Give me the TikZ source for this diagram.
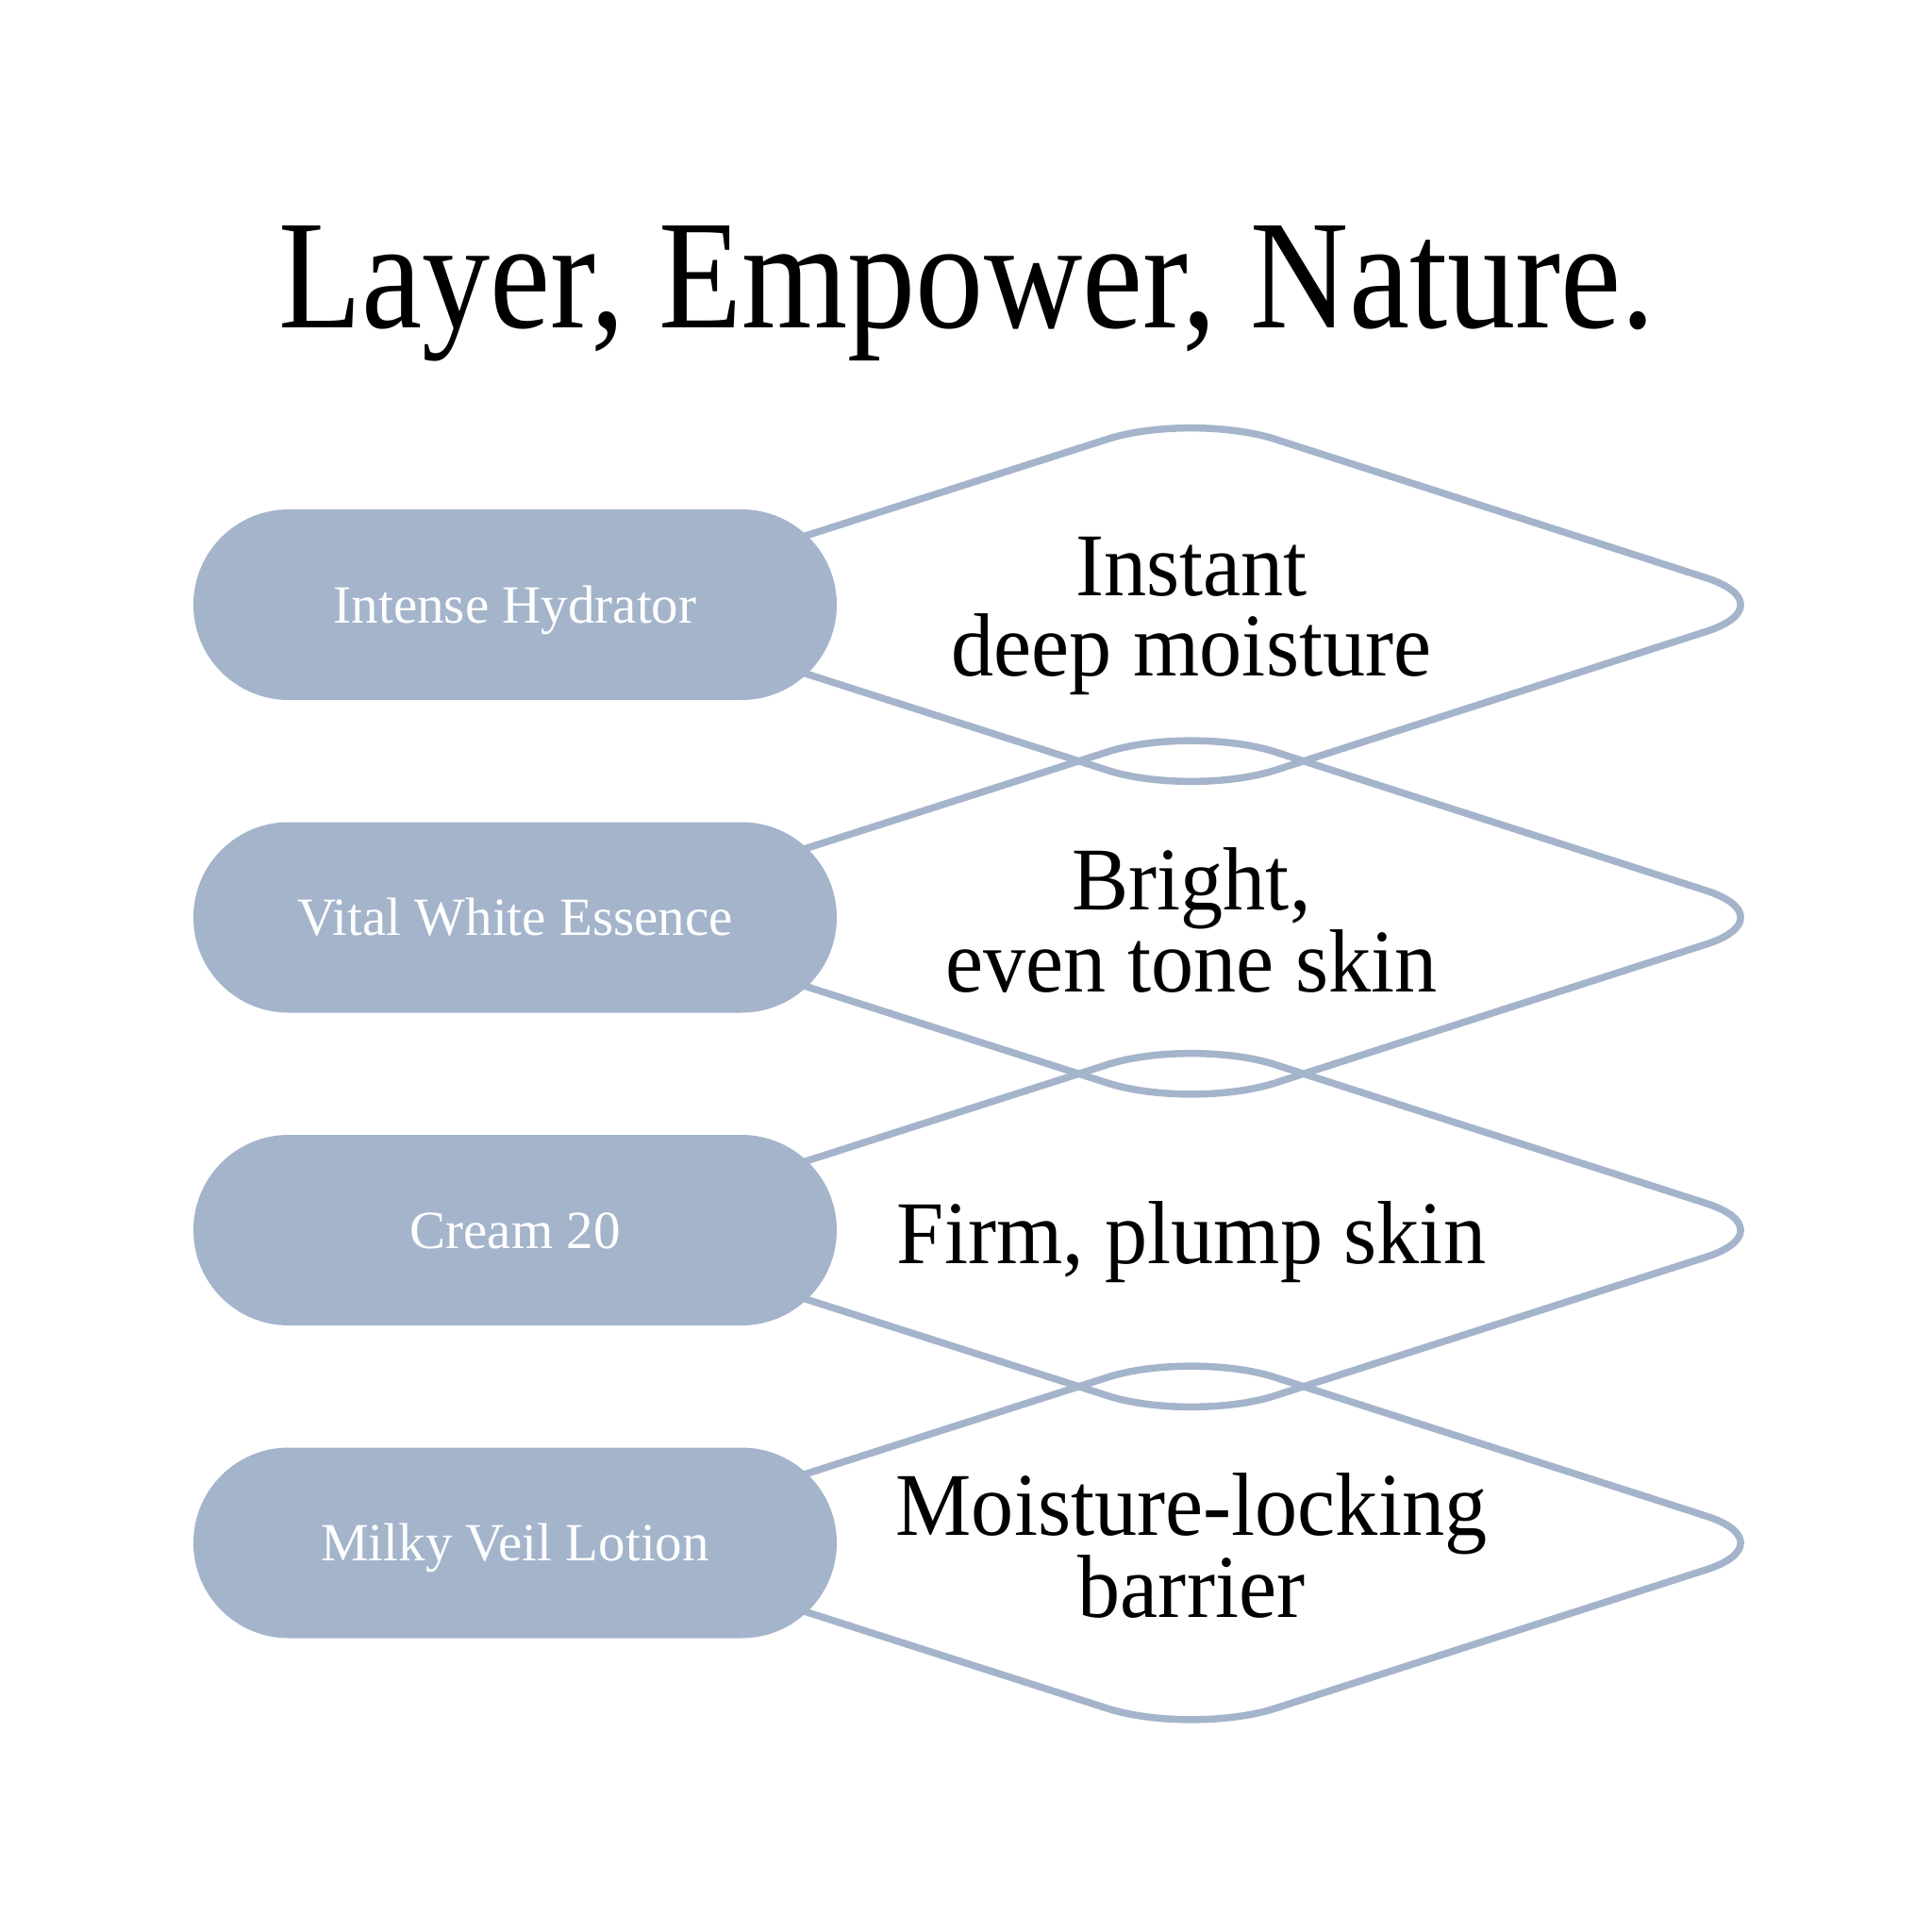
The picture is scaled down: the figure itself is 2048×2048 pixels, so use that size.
\documentclass[tikz,border=0pt]{standalone}
\usepackage{fontspec}
\setmainfont{Liberation Serif}
\newfontfamily\titlefont[FakeStretch=0.875]{Liberation Serif}
\newfontfamily\blurbfont[FakeStretch=0.95]{Liberation Serif}
\usepackage{tikz}
\definecolor{veilblue}{RGB}{164, 180, 203}

\begin{document}
\begin{tikzpicture}[x=1pt, y=-1pt,
			pill/.style={fill=veilblue, rounded corners=101pt, minimum width=682pt, minimum height=202pt, inner sep=0pt,
				text=white, text height=38pt, text depth=0pt, font=\fontsize{57}{60}\selectfont},
			blurb/.style={align=center, inner sep=0pt, font=\blurbfont\fontsize{95}{85}\selectfont,
				execute at begin node=\strut, execute at end node=\strut},
			wave/.style={draw=veilblue, line width=7.5pt, rounded corners=93pt}]
			%Rahmen
			\useasboundingbox[fill=white] (0,0) rectangle (2048,2048);
			%Titel
			\node[anchor=base, inner sep=0pt, font=\titlefont\fontsize{165}{180}\selectfont] (titel) at (1025,347) {Layer, Empower, Nature.};
			%Rauten
			\foreach \i in {0,...,3}
				\draw[wave] (626,{641+331.5*\i}) -- ++(637,-204) -- ++(634,204) -- ++(-634,204) -- cycle;
			%Pillen
			\foreach \i/\name in {0/Intense Hydrator, 1/Vital White Essence, 2/Cream 20, 3/Milky Veil Lotion}
				\node[pill] (pill\i) at (546,{641+331.5*\i}) {\name};
			%Beschriftung
			\foreach \i/\txt in {0/{Instant\\deep moisture}, 1/{Bright,\\even tone skin}, 2/{Firm, plump skin}, 3/{Moisture-locking\\barrier}}
				\node[blurb] (blurb\i) at (1263,{656+331.5*\i}) {\txt};
		\end{tikzpicture}
\end{document}
